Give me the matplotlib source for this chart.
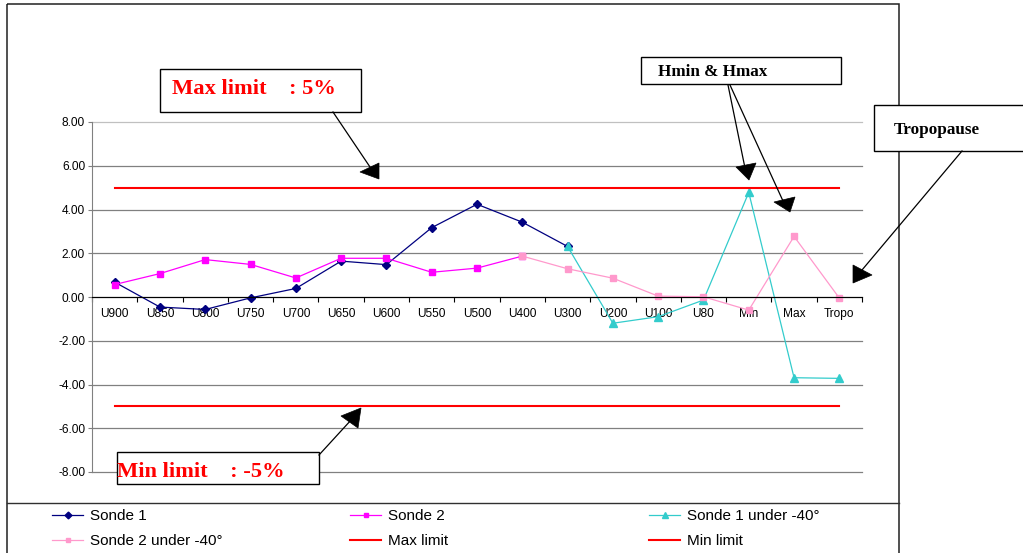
import numpy as np
import matplotlib
matplotlib.use("Agg")
import matplotlib.pyplot as plt
from matplotlib.lines import Line2D
from matplotlib.patches import Rectangle, Polygon
from matplotlib.transforms import Affine2D

plt.rcParams['font.family'] = ['Liberation Sans', 'DejaVu Sans']

nan = np.nan

# data
categories = ['U900', 'U850', 'U800', 'U750', 'U700', 'U650', 'U600', 'U550', 'U500',
              'U400', 'U300', 'U200', 'U100', 'U80', 'Min', 'Max', 'Tropo']
sonde1 = [0.68, -0.46, -0.57, -0.04, 0.39, 1.64, 1.48, 3.17, 4.24, 3.42, 2.31,
          nan, nan, nan, nan, nan, nan]
sonde2 = [0.57, 1.07, 1.71, 1.49, 0.87, 1.77, 1.77, 1.13, 1.32, 1.87,
          nan, nan, nan, nan, nan, nan, nan]
sonde1_cold = [nan, nan, nan, nan, nan, nan, nan, nan, nan, nan,
               2.31, -1.20, -0.90, -0.14, 4.78, -3.69, -3.72]
sonde2_cold = [nan, nan, nan, nan, nan, nan, nan, nan, nan,
               1.87, 1.29, 0.86, 0.04, 0.01, -0.60, 2.77, -0.05]
max_limit = [5.0] * len(categories)
min_limit = [-5.0] * len(categories)
yticks = [-8, -6, -4, -2, 0, 2, 4, 6, 8]

W, H = 1023, 553
fig = plt.figure(figsize=(W / 100, H / 100), dpi=100)
# pixel coords, origin top-left (for the frame and the drawn callouts)
pix = Affine2D().scale(1 / W, -1 / H).translate(0, 1) + fig.transFigure

ax = fig.add_axes([92 / W, (H - 472) / H, (862 - 92) / W, (472 - 122) / H])
x = np.arange(len(categories))

ax.plot(x, sonde1, color='#000080', lw=0.9, marker='D', ms=4.3, label='Sonde 1')
ax.plot(x, sonde2, color='#FF00FF', lw=0.9, marker='s', ms=4.3, label='Sonde 2')
ax.plot(x, sonde1_cold, color='#33CCCC', lw=0.9, marker='^', ms=5.5, label='Sonde 1 under -40°')
ax.plot(x, sonde2_cold, color='#FF99CC', lw=0.9, marker='s', ms=4.3, label='Sonde 2 under -40°')
ax.plot(x, max_limit, color='#FF0000', lw=1.5, label='Max limit')
ax.plot(x, min_limit, color='#FF0000', lw=1.5, label='Min limit')

ax.set_xlim(-0.5, len(categories) - 0.5)
ax.set_ylim(-8, 8)
ax.set_yticks(yticks)
ax.set_yticklabels(['%.2f' % v for v in yticks])
ax.tick_params(axis='y', direction='out', length=3, color='#808080', pad=2, labelsize=8.6)
ax.yaxis.grid(True, color='#808080', lw=0.9)
grid = ax.yaxis.get_gridlines()
for g in grid:
    g.set_clip_on(False)
grid[-1].set_color('#C0C0C0')
ax.set_axisbelow(True)

ax.set_xticks(np.arange(len(categories) + 1) - 0.5)
ax.set_xticklabels([])
ax.set_xticks(x, minor=True)
ax.set_xticklabels(categories, minor=True)
ax.tick_params(axis='x', which='major', direction='out', length=3.6, color='black')
ax.tick_params(axis='x', which='minor', length=0, pad=8, labelsize=8.6)

for s in ['top', 'right']:
    ax.spines[s].set_visible(False)
ax.spines['left'].set_color('#808080')
ax.spines['bottom'].set_position(('data', 0))
ax.spines['bottom'].set_color('black')

# legend in three columns
handles, labels = ax.get_legend_handles_labels()
cols = [[0, 3], [1, 4], [2, 5]]
col_x = [52, 350, 649]
for idx, cx in zip(cols, col_x):
    fig.legend([handles[i] for i in idx], [labels[i] for i in idx],
               loc='upper left', bbox_to_anchor=(cx, 509), bbox_transform=pix,
               frameon=False, borderpad=0, borderaxespad=0, handlelength=2.05,
               handletextpad=0.45, labelspacing=0.72, markerscale=0.8,
               prop={'family': 'Liberation Sans', 'size': 11})

# chart frame and legend separator
fig.add_artist(Rectangle((7, 4), 892, 600, transform=pix, fill=False,
                         ec='#202020', lw=1.1, zorder=3))
fig.add_artist(Line2D([7, 899], [503, 503], transform=pix, color='#303030', lw=1, zorder=3))

# callout boxes
serif = 'Liberation Serif'
boxes = [(160, 69, 201, 43), (117, 452, 202, 32), (641, 57, 200, 27), (874, 105, 160, 46)]
for bx, by, bw, bh in boxes:
    fig.add_artist(Rectangle((bx, by), bw, bh, transform=pix, fc='white',
                             ec='black', lw=1, zorder=5))
fig.text(172, 94, 'Max limit    : 5%', transform=pix, color='red', family=serif,
         weight='bold', fontsize=16.2, va='baseline', zorder=6)
fig.text(117, 477, 'Min limit    : -5%', transform=pix, color='red', family=serif,
         weight='bold', fontsize=16.2, va='baseline', zorder=6)
fig.text(658, 76, 'Hmin & Hmax', transform=pix, color='black', family=serif,
         weight='bold', fontsize=12.3, va='baseline', zorder=6)
fig.text(894, 134, 'Tropopause', transform=pix, color='black', family=serif,
         weight='bold', fontsize=12.3, va='baseline', zorder=6)

# arrows
arrow_lines = [((333, 370), (112, 167)),
               ((319, 352), (455, 419)),
               ((728, 745), (85, 168)),
               ((730, 783), (85, 201)),
               ((962, 862), (151, 270))]
for xs, ys in arrow_lines:
    fig.add_artist(Line2D(xs, ys, transform=pix, color='black', lw=0.9, zorder=6))
heads = [[(360, 172), (379, 163), (379, 179)],
         [(341, 416), (361, 408), (358, 428)],
         [(736, 167), (756, 163), (749, 180)],
         [(774, 202), (795, 197), (790, 212)],
         [(853, 265), (872, 275), (853, 283)]]
for h in heads:
    fig.add_artist(Polygon(h, closed=True, transform=pix, fc='black', ec='black',
                           lw=0.5, zorder=6))

fig.savefig('out.png', dpi=100, facecolor='white')
